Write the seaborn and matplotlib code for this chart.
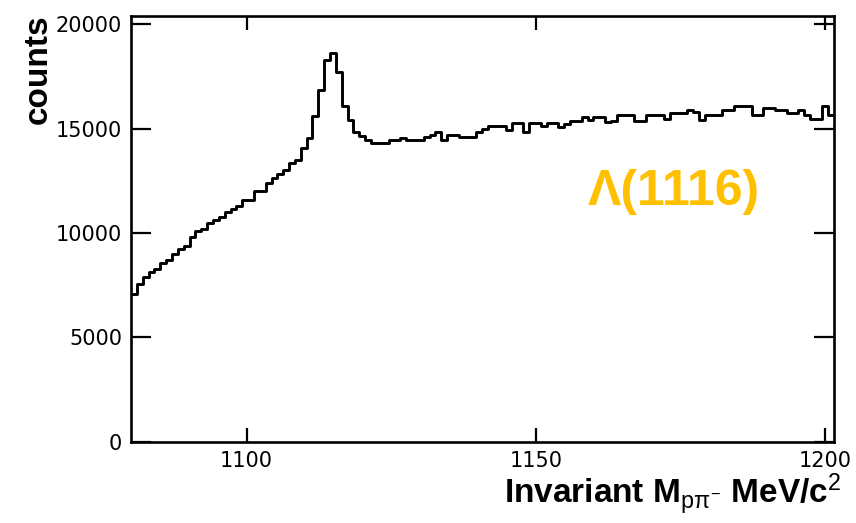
import numpy as np
import pandas as pd
import matplotlib
matplotlib.use("Agg")
import matplotlib.pyplot as plt
import seaborn as sns

# histogram range (MeV/c^2), 120 bins, and counts per bin
bin_low = 1080
bin_high = 1201.5
n_bins = 120
counts = [
    7070, 7580, 7870, 8140, 8270, 8540, 8700, 8990, 9215, 9375,
    9825, 10100, 10190, 10465, 10625, 10785, 11025, 11140, 11300, 11590,
    11590, 12035, 12035, 12390, 12630, 12840, 13000, 13350, 13510, 14070,
    14550, 15630, 16875, 18285, 18640, 17710, 16075, 15430, 14825, 14665,
    14470, 14315, 14315, 14315, 14440, 14440, 14550, 14440, 14440, 14440,
    14585, 14710, 14825, 14440, 14710, 14710, 14585, 14585, 14585, 14825,
    14985, 15110, 15110, 15110, 14950, 15270, 15270, 14825, 15270, 15270,
    15110, 15270, 15270, 15100, 15225, 15385, 15385, 15545, 15430, 15545,
    15545, 15300, 15350, 15640, 15640, 15640, 15385, 15385, 15640, 15640,
    15640, 15480, 15755, 15755, 15755, 15915, 15800, 15430, 15640, 15640,
    15640, 15915, 15915, 16075, 16075, 16075, 15640, 15640, 16000, 16000,
    15915, 15915, 15755, 15755, 15915, 15640, 15480, 15480, 16075, 15640,
]
x_ticks = [1100, 1150, 1200]
y_ticks = [0, 5000, 10000, 15000, 20000]
x_label = r"Invariant M$_{p\pi^{-}}$ MeV/c$^{2}$"
y_label = "counts"
annotation = "Λ(1116)"

bw = (bin_high - bin_low) / n_bins
centers = bin_low + (np.arange(n_bins) + 0.5) * bw
df = pd.DataFrame({"mass": centers, "counts": counts})

sns.set_theme(style="white")
plt.rcParams["font.family"] = ["Liberation Sans", "DejaVu Sans"]
plt.rcParams["mathtext.fontset"] = "custom"
plt.rcParams["mathtext.rm"] = "Liberation Sans"
plt.rcParams["mathtext.it"] = "Liberation Sans"
plt.rcParams["mathtext.bf"] = "Liberation Sans:bold"

fig = plt.figure(figsize=(8.56, 5.23), dpi=100)
L, R, T, B = 131, 833.5, 16, 441.7
ax = fig.add_axes([L / 856, 1 - B / 523, (R - L) / 856, (B - T) / 523])

sns.histplot(data=df, x="mass", weights="counts", bins=n_bins,
             binrange=(bin_low, bin_high), element="step", fill=False,
             color="black", linewidth=2.1, ax=ax)

ax.set_xlim(bin_low, bin_high)
ax.set_ylim(0, 20400)
ax.set_xticks(x_ticks)
ax.set_yticks(y_ticks)
ax.set_xticklabels([str(t) for t in x_ticks], family="DejaVu Sans")
ax.set_yticklabels([str(t) for t in y_ticks], family="DejaVu Sans")
ax.tick_params(axis="both", direction="in", width=1.6, labelsize=15,
               top=True, right=True, bottom=True, left=True,
               color="black", labelcolor="black")
ax.tick_params(axis="x", length=10, pad=7)
ax.tick_params(axis="y", length=14.5, pad=6.5)
for s in ax.spines.values():
    s.set_visible(True)
    s.set_color("black")
    s.set_linewidth(1.9)

ax.set_ylabel("")
ax.set_xlabel("")
fig.text(0.045, 1 - 14 / 523, y_label, rotation=90, ha="center", va="top",
         fontsize=24, fontweight="bold", color="black")
fig.text(842 / 856, 1 - 517 / 523, x_label, ha="right", va="bottom",
         fontsize=24, fontweight="bold", color="black")
fig.text(674 / 856, 1 - 192 / 523, annotation, ha="center", va="center",
         fontsize=36, fontweight="bold", color="#FFC000")

fig.savefig("out.png", dpi=100)
